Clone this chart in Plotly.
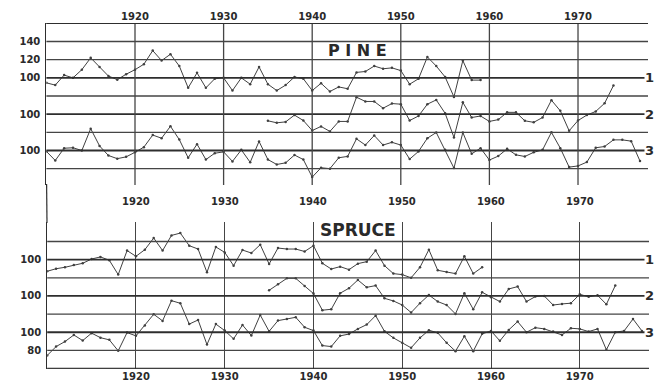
import plotly.graph_objects as go

# ---------------- data (index values, 100 = mean) ----------------
years_1 = list(range(1910, 1960))
years_2 = list(range(1935, 1975))
years_3 = list(range(1910, 1978))

pine_1 = [94.5, 92, 103, 100, 109, 122, 112, 102, 98, 104,
          109, 115, 130, 119, 126, 113, 89, 105.5, 89, 99,
          100, 86, 100, 93, 112, 93, 86, 92, 101, 99,
          86, 94, 85, 90, 88, 106, 107, 113, 110, 111,
          108, 93, 99, 123, 113, 101, 79, 119, 97.5, 97.5]
pine_2 = [92.7, 90.5, 91.5, 99, 93, 82, 86.5, 81, 92, 92,
          118.7, 114, 114, 106.6, 111.7, 111, 93, 98, 111, 115.7,
          101, 74.4, 113, 96.3, 98, 92, 94, 102, 102, 92.7,
          91, 96.3, 115.4, 103.7, 81.7, 93, 99, 103, 112, 131.5]
pine_3 = [99, 89, 102.5, 103, 100, 124, 105, 94.5, 91, 93,
          98, 103.7, 117, 113.5, 126.7, 112, 92, 107, 90, 97,
          98.5, 88, 100.7, 87, 110, 90, 84.6, 86.4, 95, 90,
          70.7, 81, 80, 92, 93.5, 112.8, 106, 116.5, 106, 109,
          106, 90.5, 99, 113.5, 119.8, 100.7, 80.6, 119.8, 96.3, 102.6,
          89.5, 93.8, 101.8, 95.2, 93.4, 98, 100.7, 120, 102.6, 81.7,
          83, 87.2, 103, 104.4, 111.7, 111.7, 110.3, 88.3]

spruce_1 = [87.2, 90, 91.6, 94, 96, 100.7, 103, 99.3, 83.5, 110,
            103.7, 111, 123.8, 110, 126.7, 129.3, 115.4, 111.7, 86, 114,
            108, 93.4, 110.6, 107.3, 116.5, 95.2, 112.8, 111.7, 111.7, 109,
            115.4, 96, 89.7, 92.3, 89, 95.6, 97.8, 110, 93.4, 84.6,
            83.5, 80, 91.6, 111, 88.3, 86.4, 84.6, 103.7, 84.6, 91.6]
spruce_2 = [106.2, 112.8, 119.4, 119.4, 111, 102.6, 84.3, 85.3, 103, 108.5,
            117.6, 109.5, 111.4, 97.4, 94.5, 90, 81.7, 92, 101, 93.8,
            90, 80.2, 103, 85.3, 104, 98.5, 93.8, 107.7, 110.3, 93.8,
            99.3, 100, 90, 91.2, 92, 101.8, 99, 100.7, 90.8, 111.4]
spruce_3 = [74.4, 84.2, 89.7, 97, 90.8, 99, 94, 91.6, 79.5, 99.6,
            96, 107.3, 119.8, 112.5, 134.8, 131.9, 109, 113.5, 86.4, 109,
            101.8, 92.7, 108, 96.3, 119, 101, 112.8, 114.6, 116.5, 105.5,
            101.8, 85.3, 84.2, 96, 98, 103.7, 108.4, 118.3, 101, 93.8,
            88.3, 82.8, 93.8, 102.2, 99.3, 88.3, 79.1, 95.6, 79.1, 98.2,
            101.5, 90.5, 102.6, 111.7, 100, 105, 103.7, 100.7, 97, 104.4,
            103.7, 100.7, 103.7, 80.7, 100, 101.5, 114.6, 101.5]

series_offsets = [0, 40, 80]          # vertical stacking of curves 1, 2, 3
series_names = ["1", "2", "3"]
x_ticks = [1920, 1930, 1940, 1950, 1960, 1970]
x_tick_labels = ["1920", "1930", "1940", "1950", "1960", "1970"]

top_grid = [0, 20, 40, 60, 80, 100, 120, 140, 160]
top_grid_text = ["", "100", "", "100", "", "100", "120", "140", ""]
bot_grid = [-20, 0, 20, 40, 60, 80, 100, 120]
bot_grid_text = ["", "80", "100", "", "100", "", "100", ""]

# ---------------- layout helpers ----------------
W, H = 656, 384
def px(x):
    return x / W
def py(y):
    return 1 - y / H

INK = "#2e2e2e"
GRID = "#454545"
FONT = dict(family="DejaVu Sans", size=10, color="#2a2a2a", weight="bold")

TOP_PANEL = (23, 185)      # pixel rows of the PINE grid
BOT_PANEL = (222, 368.8)   # pixel rows of the SPRUCE grid

fig = go.Figure()
panels = [
    ("x", "y", [years_1, years_2, years_3], [pine_1, pine_2, pine_3]),
    ("x2", "y2", [years_1, years_2, years_3], [spruce_1, spruce_2, spruce_3]),
]
for xa, ya, yrs_list, vals_list in panels:
    for yrs, vals, off in zip(yrs_list, vals_list, series_offsets):
        fig.add_trace(go.Scatter(
            x=yrs, y=[v - off for v in vals], mode="lines+markers",
            line=dict(color="#404040", width=1),
            marker=dict(size=2.5, color="#404040"),
            xaxis=xa, yaxis=ya, hoverinfo="skip", showlegend=False))

common_x = dict(tickvals=x_ticks, ticktext=x_tick_labels,
                zeroline=False, showline=False, ticks="", tickfont=FONT)
common_y = dict(showgrid=False, zeroline=False,
                showline=True, linecolor=INK, linewidth=1.2, ticks="",
                tickfont=FONT, ticklabelstandoff=3)

fig.update_layout(
    width=W, height=H, margin=dict(l=0, r=0, t=0, b=0),
    paper_bgcolor="white", plot_bgcolor="rgba(0,0,0,0)",
    xaxis=dict(domain=[px(46.4), px(648)], range=[1910, 1977.9],
               side="top", anchor="y", showgrid=False, **common_x),
    yaxis=dict(domain=[py(TOP_PANEL[1]), py(TOP_PANEL[0])], range=[-18, 160.4],
               anchor="x", tickvals=top_grid, ticktext=top_grid_text, **common_y),
    xaxis2=dict(domain=[px(47.2), px(649)], range=[1910, 1977.8],
                side="bottom", anchor="y2", showgrid=True, gridcolor=GRID,
                gridwidth=1.3, **common_x),
    yaxis2=dict(domain=[py(BOT_PANEL[1]), py(BOT_PANEL[0])], range=[-20.3, 141.5],
                anchor="x2", tickvals=bot_grid, ticktext=bot_grid_text, **common_y),
)

shapes = []
for xa, ya, grid in (("x", "y", top_grid), ("x2", "y2", bot_grid)):
    baselines = [100 - off for off in series_offsets]
    for g in grid:
        if g in baselines:
            style = dict(color=INK, width=1.8)
        else:
            style = dict(color=GRID, width=1.3)
        shapes.append(dict(type="line", xref=f"{xa} domain", yref=ya,
                           x0=0, x1=1, y0=g, y1=g, line=style))
# vertical decade lines of the PINE panel
for t in x_ticks:
    shapes.append(dict(type="line", xref="x", yref="paper",
                       x0=t, x1=t, y0=py(TOP_PANEL[1]), y1=py(TOP_PANEL[0]),
                       line=dict(color=GRID, width=1.3)))
# heavier frame lines: top of PINE panel, bottom of SPRUCE panel
shapes.append(dict(type="line", xref="x domain", yref="y", x0=0, x1=1,
                   y0=160, y1=160, line=dict(color=INK, width=1.5)))
shapes.append(dict(type="line", xref="x2 domain", yref="y2", x0=0, x1=1,
                   y0=-20, y1=-20, line=dict(color=INK, width=1.8)))
# continuous left frame between the panels
shapes.append(dict(type="line", xref="paper", yref="paper",
                   x0=px(46.6), x1=px(47.0), y0=py(184), y1=py(223),
                   line=dict(color=INK, width=1.2)))
fig.update_layout(shapes=shapes)

ann = []
ann.append(dict(text="P I N E", x=px(357), y=py(50), xref="paper", yref="paper",
                xanchor="center", yanchor="middle", showarrow=False,
                font=dict(family="DejaVu Sans", size=16, color="#2a2a2a", weight="bold")))
ann.append(dict(text="SPRUCE", x=px(357.5), y=py(230), xref="paper", yref="paper",
                xanchor="center", yanchor="middle", showarrow=False,
                font=dict(family="DejaVu Sans", size=17, color="#2a2a2a", weight="bold")))
for ya in ("y", "y2"):
    for name, off in zip(series_names, series_offsets):
        ann.append(dict(text=name, x=px(644), y=100 - off, xref="paper", yref=ya,
                        xanchor="left", yanchor="middle", showarrow=False,
                        bgcolor="white", borderpad=0,
                        font=dict(family="DejaVu Sans", size=13,
                                  color="#2a2a2a", weight="bold")))
for t, lab in zip(x_ticks, x_tick_labels):
    ann.append(dict(text=lab, x=t, y=py(201), xref="x2", yref="paper",
                    xanchor="center", yanchor="middle", showarrow=False, font=FONT))
fig.update_layout(annotations=ann)

fig.write_html("out.html")
